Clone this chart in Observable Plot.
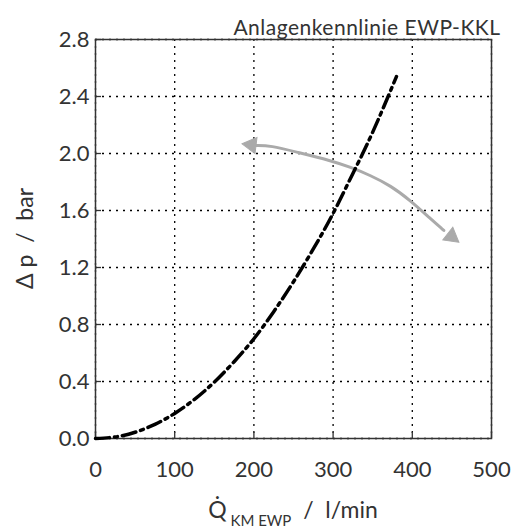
<!DOCTYPE html>
<html>
<head>
<meta charset="utf-8">
<script src="https://cdn.jsdelivr.net/npm/d3@7"></script>
<script src="https://cdn.jsdelivr.net/npm/@observablehq/plot@0.6"></script>
<style>
  html, body { margin: 0; padding: 0; background: #fff; }
  #chart { width: 512px; height: 528px; }
  svg { font-family: Lato, "Open Sans", sans-serif; }
</style>
</head>
<body>
<div id="chart"></div>
<script>
// Tick values
const xTicks = [0, 100, 200, 300, 400, 500];
const yTicks = [0.0, 0.4, 0.8, 1.2, 1.6, 2.0, 2.4, 2.8];

// System characteristic curve (flow l/min, pressure drop bar)
const flow = [0, 25, 50, 75, 100, 125, 150, 175, 200, 225, 250, 275, 300, 325, 350, 380];
const dp   = [0, 0.011, 0.044, 0.099, 0.176, 0.275, 0.396, 0.539, 0.70, 0.89, 1.10, 1.33, 1.58, 1.86, 2.15, 2.54];

// Gray double-headed arrow path
const arrowX = [202.0, 221.0, 254.7, 296.7, 322.0, 347.2, 372.5, 397.7, 423.0, 439.8];
const arrowY = [2.056, 2.056, 2.009, 1.951, 1.904, 1.846, 1.775, 1.670, 1.542, 1.460];
// Arrow heads (centre, rotation in degrees)
const headX = [196.8, 449.5];
const headY = [2.060, 1.418];
const headRot = [-83, 128];

const title = "Anlagenkennlinie EWP-KKL";

const curve = flow.map((x, i) => ({x, y: dp[i]}));
const arrow = arrowX.map((x, i) => ({x, y: arrowY[i]}));
const heads = headX.map((x, i) => ({x, y: headY[i], r: headRot[i]}));

const plot = Plot.plot({
  width: 512,
  height: 528,
  marginLeft: 95,
  marginRight: 21,
  marginTop: 39,
  marginBottom: 90,
  style: {fontFamily: "Lato, 'Open Sans', sans-serif", background: "#fff", color: "#333"},
  x: {domain: [0, 500], ticks: xTicks, label: null},
  y: {domain: [0, 2.8], ticks: yTicks, label: null},
  marks: [
    Plot.gridX(xTicks, {stroke: "#000", strokeOpacity: 1, strokeWidth: 1.3, strokeDasharray: "2,5"}),
    Plot.gridY(yTicks, {stroke: "#000", strokeOpacity: 1, strokeWidth: 1.3, strokeDasharray: "2,5"}),
    Plot.axisX(xTicks, {tickSize: -6, tickPadding: 29, fontSize: 22, fill: "#333", stroke: "#333", strokeWidth: 1.3, tickFormat: d => String(d)}),
    Plot.axisY(yTicks, {tickSize: -6, tickPadding: 12, fontSize: 22, fill: "#333", stroke: "#333", strokeWidth: 1.3, tickFormat: d => d.toFixed(1)}),
    Plot.frame({stroke: "#333", strokeWidth: 1.5}),
    Plot.line(arrow, {x: "x", y: "y", curve: "basis", stroke: "#aaa", strokeWidth: 3}),
    Plot.dot(heads, {x: "x", y: "y", rotate: "r", symbol: "triangle", r: 6, fill: "#aaa", stroke: "#aaa", strokeWidth: 1}),
    Plot.line(curve, {x: "x", y: "y", curve: "natural", stroke: "#000", strokeWidth: 3.5, strokeDasharray: "14,5,3,5"}),
    Plot.text([title], {frameAnchor: "top-right", text: d => d, dy: -19, dx: 9, textAnchor: "end", fontSize: 21, fill: "#333"})
  ]
});
document.getElementById("chart").appendChild(plot);

// Axis labels with subscript
const svg = d3.select(plot);
const xs = plot.scale("x"), ys = plot.scale("y");
const xl = svg.append("text")
  .attr("x", (xs.apply(0) + xs.apply(500)) / 2)
  .attr("y", 518)
  .attr("text-anchor", "middle")
  .attr("fill", "#333")
  .attr("font-size", 23);
xl.append("tspan").text("Q\u0307");
xl.append("tspan").attr("font-size", 15).attr("dy", 8).text(" KM EWP");
xl.append("tspan").attr("dy", -8).text("  /  l/min");

svg.append("text")
  .attr("transform", `translate(33,${(ys.apply(0) + ys.apply(2.8)) / 2}) rotate(-90)`)
  .attr("text-anchor", "middle")
  .attr("fill", "#333")
  .attr("font-size", 23)
  .style("white-space", "pre")
  .text("\u0394 p  /  bar");

svg.selectAll("text").filter(function() { return this.textContent === title; })
  .style("letter-spacing", "0.5px");
</script>
</body>
</html>
